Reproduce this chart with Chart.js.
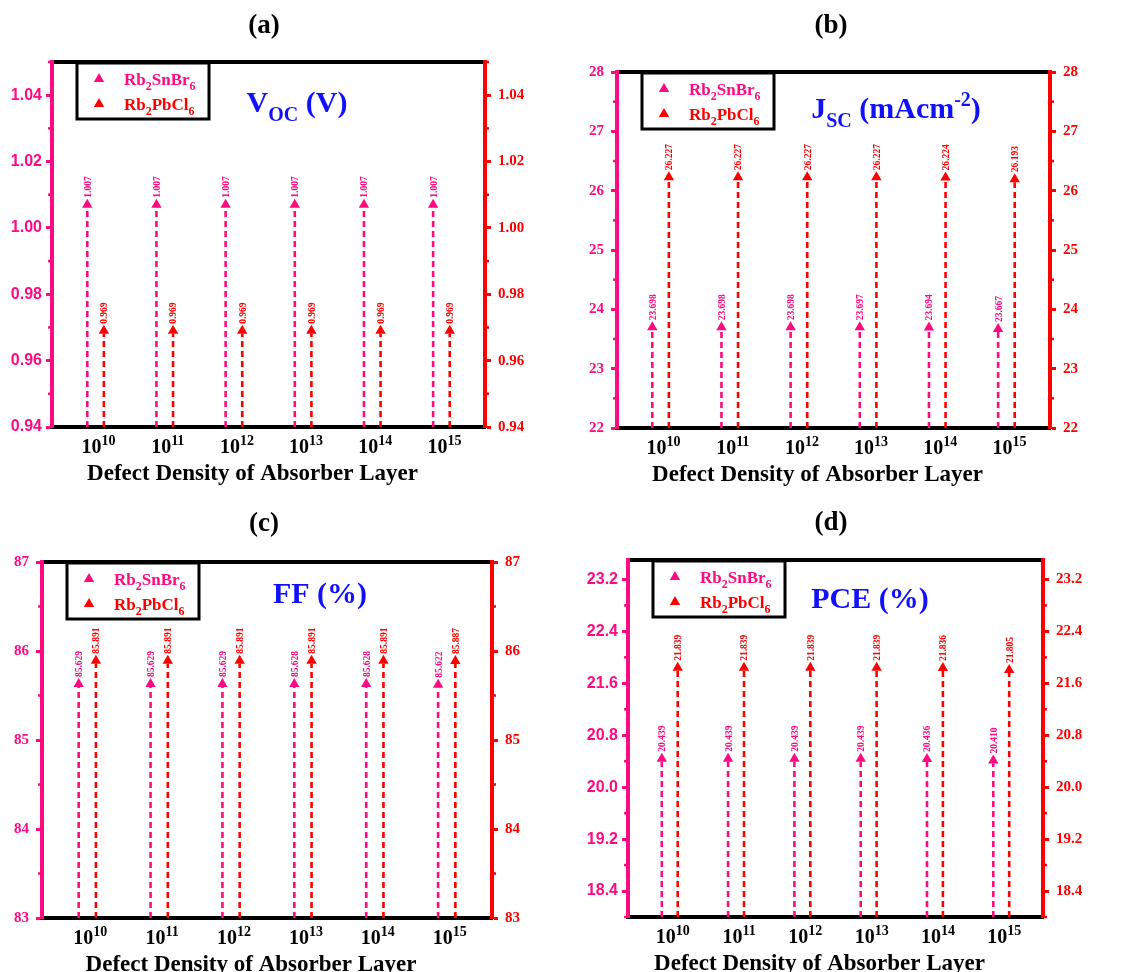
<!DOCTYPE html>
<html>
<head>
<meta charset="utf-8">
<script src="https://cdn.jsdelivr.net/npm/chart.js@4.4.1/dist/chart.umd.min.js"></script>
<style>
  body { margin: 0; background: #fff; }
  #wrap { position: relative; width: 1137px; height: 972px; overflow: hidden; }
  canvas { position: absolute; }
</style>
</head>
<body>
<div id="wrap"></div>
<script>
const exponents = [10, 11, 12, 13, 14, 15];

const vocSnBr = [1.007, 1.007, 1.007, 1.007, 1.007, 1.007];
const vocPbCl = [0.969, 0.969, 0.969, 0.969, 0.969, 0.969];
const vocTicks = [0.94, 0.96, 0.98, 1.00, 1.02, 1.04];

const jscSnBr = [23.698, 23.698, 23.698, 23.697, 23.694, 23.667];
const jscPbCl = [26.227, 26.227, 26.227, 26.227, 26.224, 26.193];
const jscTicks = [22, 23, 24, 25, 26, 27, 28];

const ffSnBr = [85.629, 85.629, 85.629, 85.628, 85.628, 85.622];
const ffPbCl = [85.891, 85.891, 85.891, 85.891, 85.891, 85.887];
const ffTicks = [83, 84, 85, 86, 87];

const pceSnBr = [20.439, 20.439, 20.439, 20.439, 20.436, 20.410];
const pcePbCl = [21.839, 21.839, 21.839, 21.839, 21.836, 21.805];
const pceTicks = [18.4, 19.2, 20.0, 20.8, 21.6, 22.4, 23.2];

const PINK = '#FF0A80';
const RED = '#FF0000';
const BLUE = '#1010FF';
const SERIF = '"Liberation Serif", "Times New Roman", serif';
const SANS = '"Liberation Sans", Arial, sans-serif';

const panels = [
  { tag: '(a)', snbr: vocSnBr, pbcl: vocPbCl, ticks: vocTicks, min: 0.94, max: 1.05, digits: 2, leftFont: SANS,
    label: [{ t: 'V' }, { t: 'OC', sub: 1 }, { t: ' (V)' }],
    box: [0, 0, 560, 486], plot: [52, 62, 485, 427], tagPos: [264, 24], labelPos: [297, 102] },
  { tag: '(b)', snbr: jscSnBr, pbcl: jscPbCl, ticks: jscTicks, min: 22, max: 28, digits: 0, leftFont: SERIF,
    label: [{ t: 'J' }, { t: 'SC', sub: 1 }, { t: ' (mAcm' }, { t: '-2', sup: 1 }, { t: ')' }],
    box: [560, 0, 577, 486], plot: [617, 72, 1050, 428], tagPos: [831, 24], labelPos: [896, 108] },
  { tag: '(c)', snbr: ffSnBr, pbcl: ffPbCl, ticks: ffTicks, min: 83, max: 87, digits: 0, leftFont: SERIF,
    label: [{ t: 'FF (%)' }],
    box: [0, 486, 560, 486], plot: [42, 562, 492, 918], tagPos: [264, 522], labelPos: [320, 593] },
  { tag: '(d)', snbr: pceSnBr, pbcl: pcePbCl, ticks: pceTicks, min: 18.0, max: 23.5, digits: 1, leftFont: SANS,
    label: [{ t: 'PCE (%)' }],
    box: [560, 486, 577, 486], plot: [628, 560, 1043, 917], tagPos: [831, 521], labelPos: [870, 598] }
];

function drawRich(ctx, parts, x, y, size, color, align) {
  const small = Math.round(size * 0.68);
  const fontFor = p => 'bold ' + (p.sub || p.sup ? small : size) + 'px ' + SERIF;
  let w = 0;
  parts.forEach(p => { ctx.font = fontFor(p); w += ctx.measureText(p.t).width; });
  let cx = align === 'left' ? x : x - w / 2;
  const base = y + size * 0.34;
  ctx.save();
  ctx.fillStyle = color;
  ctx.textAlign = 'left';
  ctx.textBaseline = 'alphabetic';
  parts.forEach(p => {
    ctx.font = fontFor(p);
    let dy = 0;
    if (p.sub) dy = size * 0.28;
    if (p.sup) dy = -size * 0.4;
    ctx.fillText(p.t, cx, base + dy);
    cx += ctx.measureText(p.t).width;
  });
  ctx.restore();
}

function triangle(ctx, x, y, r, color) {
  ctx.save();
  ctx.fillStyle = color;
  ctx.beginPath();
  ctx.moveTo(x, y - r);
  ctx.lineTo(x + r * 0.866, y + r / 2);
  ctx.lineTo(x - r * 0.866, y + r / 2);
  ctx.closePath();
  ctx.fill();
  ctx.restore();
}

function minorValues(p) {
  const step = p.ticks[1] - p.ticks[0];
  const out = [];
  p.ticks.forEach(v => {
    [v - step / 2, v + step / 2].forEach(m => {
      if (m >= p.min - 1e-9 && m <= p.max + 1e-9 && !out.some(o => Math.abs(o - m) < 1e-9)) out.push(m);
    });
  });
  return out;
}

function makeDecor(p) {
  return {
    id: 'decor',
    beforeDraw(chart) {
      const { ctx, chartArea: a } = chart;
      ctx.save();
      ctx.strokeStyle = '#000';
      ctx.lineWidth = 4;
      ctx.beginPath();
      ctx.moveTo(a.left, a.top);
      ctx.lineTo(a.right, a.top);
      ctx.stroke();
      ctx.restore();
    },
    beforeDatasetsDraw(chart) {
      const { ctx, chartArea: a } = chart;
      chart.data.datasets.forEach((ds, di) => {
        const meta = chart.getDatasetMeta(di);
        ctx.save();
        ctx.strokeStyle = ds.backgroundColor;
        ctx.lineWidth = 2.6;
        ctx.setLineDash([6, 4]);
        meta.data.forEach(pt => {
          ctx.beginPath();
          ctx.moveTo(pt.x, a.bottom);
          ctx.lineTo(pt.x, pt.y + 3);
          ctx.stroke();
        });
        ctx.restore();
      });
    },
    afterDatasetsDraw(chart) {
      const { ctx } = chart;
      chart.data.datasets.forEach((ds, di) => {
        const meta = chart.getDatasetMeta(di);
        ctx.save();
        ctx.fillStyle = ds.backgroundColor;
        ctx.font = 'bold 9.5px ' + SERIF;
        ctx.textAlign = 'left';
        ctx.textBaseline = 'middle';
        meta.data.forEach((pt, i) => {
          ctx.save();
          ctx.translate(pt.x + 1, pt.y - 7);
          ctx.rotate(-Math.PI / 2);
          ctx.fillText(ds.data[i].y.toFixed(3), 0, 0);
          ctx.restore();
        });
        ctx.restore();
      });
    },
    afterDraw(chart) {
      const { ctx, chartArea: a, scales } = chart;
      const ox = p.box[0], oy = p.box[1];

      // minor ticks
      ctx.save();
      ctx.lineWidth = 2.5;
      minorValues(p).forEach(v => {
        const yl = scales.y.getPixelForValue(v);
        ctx.strokeStyle = PINK;
        ctx.beginPath(); ctx.moveTo(a.left - 4, yl); ctx.lineTo(a.left, yl); ctx.stroke();
        const yr = scales.y1.getPixelForValue(v);
        ctx.strokeStyle = RED;
        ctx.beginPath(); ctx.moveTo(a.right, yr); ctx.lineTo(a.right + 4, yr); ctx.stroke();
      });
      ctx.restore();

      // x tick labels
      exponents.forEach((e, i) => {
        const px = scales.x.getPixelForValue(i);
        drawRich(ctx, [{ t: '10' }, { t: String(e), sup: 1 }], px + 3, a.bottom + 19, 20, '#000', 'center');
      });

      // x title
      drawRich(ctx, [{ t: 'Defect Density of Absorber Layer' }], (a.left + a.right) / 2 - 16, a.bottom + 45, 23, '#000', 'center');

      // legend
      const bx = a.left + 25, by = a.top + 1, bw = 132, bh = 56;
      ctx.save();
      ctx.fillStyle = '#fff';
      ctx.fillRect(bx, by, bw, bh);
      ctx.strokeStyle = '#000';
      ctx.lineWidth = 3;
      ctx.strokeRect(bx, by, bw, bh);
      ctx.restore();
      triangle(ctx, bx + 22, by + 16, 6, PINK);
      triangle(ctx, bx + 22, by + 41, 6, RED);
      drawRich(ctx, [{ t: 'Rb' }, { t: '2', sub: 1 }, { t: 'SnBr' }, { t: '6', sub: 1 }], bx + 47, by + 16, 17, PINK, 'left');
      drawRich(ctx, [{ t: 'Rb' }, { t: '2', sub: 1 }, { t: 'PbCl' }, { t: '6', sub: 1 }], bx + 47, by + 41, 17, RED, 'left');

      // quantity label
      drawRich(ctx, p.label, p.labelPos[0] - ox, p.labelPos[1] - oy, 30, BLUE, 'center');

      // panel tag
      drawRich(ctx, [{ t: p.tag }], p.tagPos[0] - ox, p.tagPos[1] - oy, 27, '#000', 'center');
    }
  };
}

function yScale(p, side) {
  const left = side === 'left';
  const color = left ? PINK : RED;
  const family = left ? p.leftFont : SERIF;
  return {
    type: 'linear',
    position: side,
    min: p.min,
    max: p.max,
    afterBuildTicks: s => { s.ticks = p.ticks.map(v => ({ value: v })); },
    afterFit: s => { s.width = left ? p.plot[0] - p.box[0] : p.box[0] + p.box[2] - p.plot[2]; },
    ticks: {
      color: color,
      padding: family === SANS ? 4 : 7,
      font: { family: family, size: family === SANS ? 16 : 15, weight: 'bold' },
      callback: v => Number(v).toFixed(p.digits)
    },
    grid: { drawOnChartArea: false, tickLength: 6, tickWidth: 3, tickColor: color },
    border: { color: color, width: 4 }
  };
}

const wrap = document.getElementById('wrap');

panels.forEach(p => {
  const canvas = document.createElement('canvas');
  canvas.width = p.box[2];
  canvas.height = p.box[3];
  canvas.style.left = p.box[0] + 'px';
  canvas.style.top = p.box[1] + 'px';
  canvas.style.width = p.box[2] + 'px';
  canvas.style.height = p.box[3] + 'px';
  wrap.appendChild(canvas);

  new Chart(canvas.getContext('2d'), {
    type: 'scatter',
    data: {
      datasets: [
        {
          label: 'Rb2SnBr6',
          data: p.snbr.map((v, i) => ({ x: i - 0.12, y: v })),
          yAxisID: 'y',
          backgroundColor: PINK,
          borderColor: PINK,
          pointStyle: 'triangle',
          pointRadius: 6,
          pointBorderWidth: 0
        },
        {
          label: 'Rb2PbCl6',
          data: p.pbcl.map((v, i) => ({ x: i + 0.12, y: v })),
          yAxisID: 'y1',
          backgroundColor: RED,
          borderColor: RED,
          pointStyle: 'triangle',
          pointRadius: 6,
          pointBorderWidth: 0
        }
      ]
    },
    options: {
      responsive: false,
      maintainAspectRatio: false,
      animation: false,
      devicePixelRatio: 1,
      layout: { padding: { top: p.plot[1] - p.box[1], left: 0, right: 0, bottom: 0 } },
      plugins: { legend: { display: false }, tooltip: { enabled: false } },
      scales: {
        x: {
          type: 'linear',
          min: -0.63,
          max: 5.63,
          afterBuildTicks: s => { s.ticks = exponents.map((e, i) => ({ value: i })); },
          afterFit: s => { s.height = p.box[1] + p.box[3] - p.plot[3]; },
          ticks: { display: false },
          grid: { drawOnChartArea: false, drawTicks: false },
          border: { color: '#000', width: 4 }
        },
        y: yScale(p, 'left'),
        y1: yScale(p, 'right')
      }
    },
    plugins: [makeDecor(p)]
  });
});
</script>
</body>
</html>
